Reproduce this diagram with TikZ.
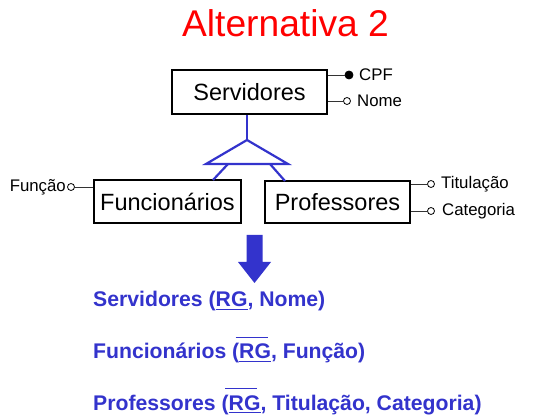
\documentclass[tikz,border=0pt]{standalone}
\usepackage{fontspec}
\setmainfont{Liberation Sans}
\definecolor{erblue}{RGB}{51,51,204}
\definecolor{titred}{RGB}{255,0,0}
\newcommand{\keyu}[1]{\setbox0\hbox{#1}\rlap{\rule[-3.4pt]{\wd0}{1.5pt}}\box0}
\newcommand{\keyuo}[1]{\setbox0\hbox{#1}\rlap{\rule[-3.4pt]{\wd0}{1.5pt}}\rlap{\hspace{-3.5pt}\rule[20.5pt]{\wd0}{1.5pt}}\box0}
\tikzset{
  entity/.style={draw, line width=2.9pt, inner sep=0pt, font=\fontsize{23.5}{26}\selectfont},
  attrline/.style={line width=0.9pt, draw=black!80},
  attro/.style={circle, draw, line width=0.8pt, fill=white, inner sep=0pt, minimum size=7pt},
  attrk/.style={circle, draw, line width=0.8pt, fill=black, inner sep=0pt, minimum size=8pt},
  attrlbl/.style={inner sep=0pt, font=\fontsize{16.8}{19}\selectfont},
  isa/.style={draw=erblue, line width=2.2pt},
  rel/.style={inner sep=0pt, anchor=base west, text=erblue, font=\fontsize{21.2}{24}\selectfont\bfseries}
}
\begin{document}
\begin{tikzpicture}[x=1pt,y=-1pt]
\useasboundingbox (0,0) rectangle (542,417);
% title
\node[text=titred, font=\fontsize{37.2}{40}\selectfont, inner sep=0pt, anchor=base] (title) at (285.5,36.5) {Alternativa 2};
% entities
\node[entity, minimum width=155pt, minimum height=44pt] (serv) at (249.5,92) {Servidores};
\node[entity, minimum width=147pt, minimum height=43pt] (func) at (167.5,201.5) {Funcionários};
\node[entity, minimum width=145pt, minimum height=42pt] (prof) at (337.5,202) {Professores};
% attributes of Servidores
\node[attrk] (cpf) at (349,75) {};
\node[attro] (nome) at (347,101) {};
\draw[attrline] (serv.east |- cpf) -- (cpf);
\draw[attrline] (serv.east |- nome) -- (nome);
\node[attrlbl, anchor=west] (cpfl) at (359,75) {CPF};
\node[attrlbl, anchor=west] (nomel) at (357,101) {Nome};
% attribute of Funcionarios
\node[attro] (funcao) at (71,187) {};
\draw[attrline] (funcao) -- (func.west |- funcao);
\node[attrlbl, anchor=east] (funcaol) at (66,187) {Função};
% attributes of Professores
\node[attro] (tit) at (431,184) {};
\node[attro] (cat) at (431,211) {};
\draw[attrline] (prof.east |- tit) -- (tit);
\draw[attrline] (prof.east |- cat) -- (cat);
\node[attrlbl, anchor=west] (titl) at (441,184) {Titulação};
\node[attrlbl, anchor=west] (catl) at (442,211) {Categoria};
% ISA triangle
\coordinate (apex) at (247,140);
\coordinate (bl) at (206,164);
\coordinate (br) at (288,164);
\coordinate (fl) at (228,164);
\coordinate (fr) at (270,164);
\coordinate (ft) at (213,180);
\coordinate (pt) at (285,181);
\draw[isa] (apex |- serv.south) -- (apex);
\draw[isa, line join=miter] (apex) -- (bl) -- (br) -- cycle;
\draw[isa] (fl) -- (ft);
\draw[isa] (fr) -- (pt);
% big arrow
\fill[erblue] (246.5,235) -- (262.5,235) -- (262.5,262) -- (271,262) -- (254.5,283) -- (238,262) -- (246.5,262) -- cycle;
% relations
\node[rel] (r1) at (93,307) {Servidores (\keyu{RG}, Nome)};
\node[rel] (r2) at (93,359) {Funcionários (\keyuo{RG}, Função)};
\node[rel] (r3) at (93,410) {Professores (\keyuo{RG}, Titulação, Categoria)};
\end{tikzpicture}
\end{document}
